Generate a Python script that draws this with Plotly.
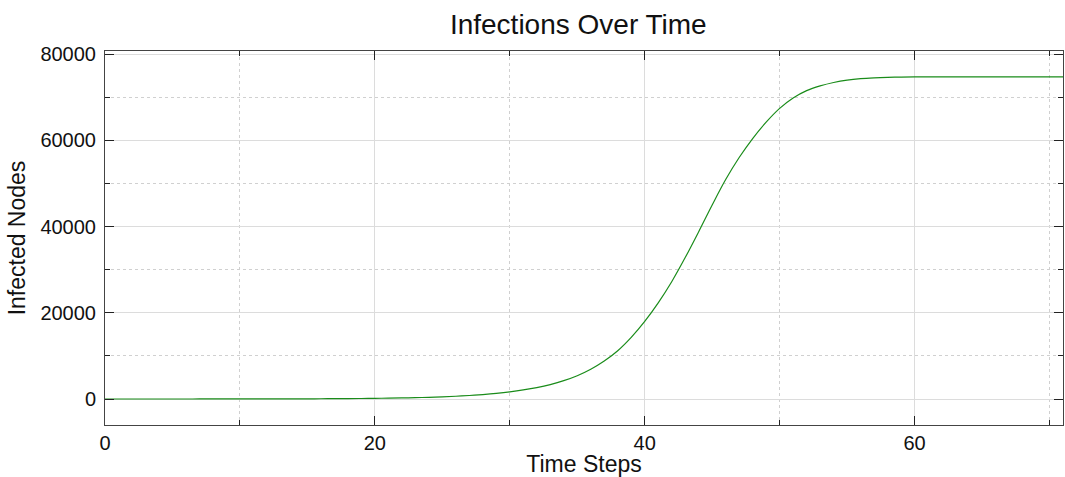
import plotly.graph_objects as go

time_steps = list(range(0, 72))
infected = [
    1, 1, 2, 2, 3, 4, 5, 6, 8, 10,
    13, 17, 22, 28, 35, 45, 57, 72, 92, 118,
    150, 192, 245, 310, 395, 500, 640, 810, 1030, 1300,
    1650, 2100, 2650, 3350, 4250, 5400, 6900, 8800, 11200, 14300,
    18000, 22300, 27200, 32800, 38800, 45000, 50900, 56000, 60400, 64200,
    67400, 69800, 71500, 72600, 73400, 73950, 74280, 74470, 74590, 74660,
    74700, 74700, 74700, 74700, 74700, 74700, 74700, 74700, 74700, 74700,
    74700, 74700,
]

FONT = "Liberation Sans, Arial, Helvetica, sans-serif"

fig = go.Figure()
fig.add_trace(go.Scatter(
    x=time_steps, y=infected, mode="lines",
    line=dict(color="#1a8c1a", width=1.2, shape="spline", smoothing=1.0),
    showlegend=False,
))

axis_common = dict(
    showline=True, linecolor="#444", linewidth=1, mirror="allticks",
    ticks="inside", ticklen=9, tickcolor="#222", tickwidth=1,
    showgrid=True, gridcolor="#dcdcdc", gridwidth=1,
    zeroline=False, tickformat="d",
    tickfont=dict(family=FONT, size=20, color="#111"),
    title_font=dict(family=FONT, size=23, color="#111"),
)

fig.update_xaxes(
    **axis_common, range=[0, 71], tick0=0, dtick=20,
    minor=dict(dtick=10, ticks="inside", ticklen=5, tickcolor="#222",
               showgrid=True, gridcolor="#d0d0d0", griddash="dot"),
    title_text="Time Steps", title_standoff=2,
)
fig.update_yaxes(
    **axis_common, range=[-6030, 80700], tick0=0, dtick=20000,
    minor=dict(dtick=10000, ticks="inside", ticklen=5, tickcolor="#222",
               showgrid=True, gridcolor="#d0d0d0", griddash="dot"),
    title_text="Infected Nodes", title_standoff=8, ticklabelstandoff=4,
)

fig.update_layout(
    width=1065, height=477,
    margin=dict(l=105, r=2, t=51, b=52),
    plot_bgcolor="white", paper_bgcolor="white",
    title=dict(text="Infections Over Time", x=0.543, xanchor="center",
               y=0.95, yanchor="middle",
               font=dict(family=FONT, size=28, color="#111")),
)

fig.write_html("out.html")
